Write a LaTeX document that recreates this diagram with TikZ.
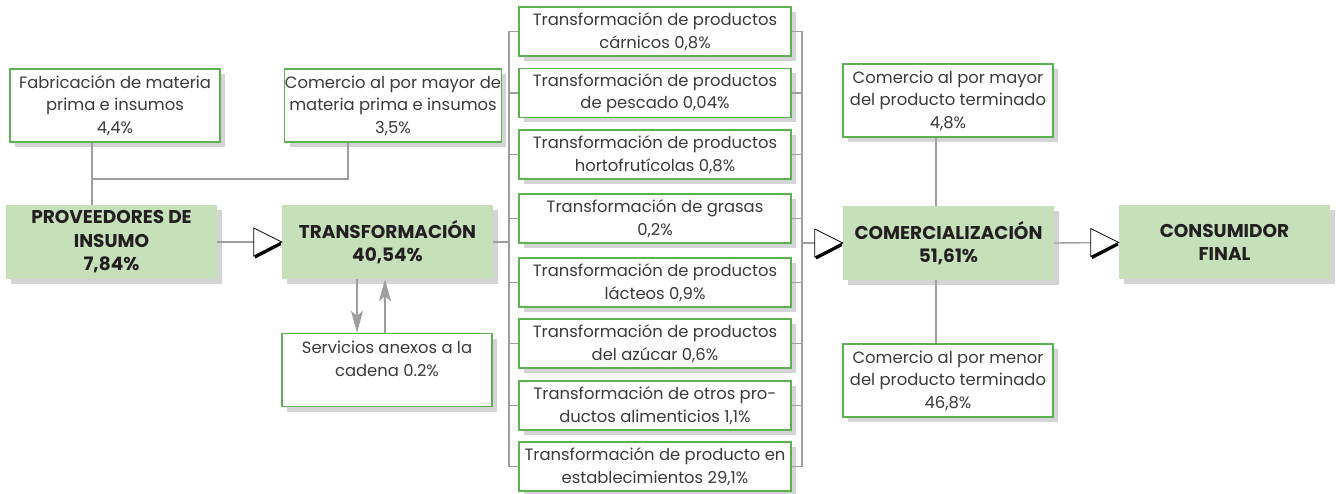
\documentclass[tikz,border=0pt]{standalone}
\usepackage{fontspec}
\setmainfont{Poppins}
\usetikzlibrary{shadows,arrows.meta,calc}
\definecolor{gfill}{RGB}{198,224,186}
\definecolor{gline}{RGB}{92,178,80}
\definecolor{shad}{RGB}{212,212,214}
\definecolor{conncol}{RGB}{158,158,160}
\definecolor{txt}{RGB}{58,58,58}
\definecolor{btxt}{RGB}{35,31,32}
\newcommand\arrowtri[1]{%
  \draw[fill=white,draw=black,line width=0.8pt,line join=miter] (#1) -- ++(-28,-14) -- ++(0,28) -- cycle;
  \draw[black,line width=3.2pt] ($(#1)+(-27,15)$) -- ($(#1)+(-1,1.5)$);
}
\begin{document}
\begin{tikzpicture}[x=1pt,y=-1pt,
  sh/.style={drop shadow={shadow xshift=5pt,shadow yshift=-5pt,fill=shad,opacity=1}},
  mainbox/.style={sh,fill=gfill,minimum width=211pt,minimum height=74pt,inner sep=0pt,align=center,font=\bfseries\fontsize{18.5}{23.5}\selectfont,text=btxt},
  sidebox/.style={sh,fill=white,draw=gline,line width=1.2pt,minimum width=210pt,minimum height=73pt,inner sep=0pt,align=center,font=\fontsize{16.4}{22.5}\selectfont,text=txt},
  midbox/.style={sidebox,minimum width=272pt,minimum height=49pt},
  link/.style={draw=conncol,line width=1.4pt},
  linkarrow/.style={link,-{Stealth[length=22pt,width=12pt,inset=5pt]},color=conncol}
]
\useasboundingbox (0,0) rectangle (1336,494);

% main chain
\node[mainbox] (prov) at (111.5,242) {PROVEEDORES DE\\INSUMO\\7,84\%};
\node[mainbox] (trans) at (387.5,242) {TRANSFORMACIÓN\\40,54\%};
\node[mainbox] (comerc) at (948.5,243) {COMERCIALIZACIÓN\\51,61\%};
\node[mainbox] (cons) at (1224.5,242.5) {CONSUMIDOR\\FINAL};

% side boxes
\node[sidebox] (fab) at (115,105.5) {Fabricación de materia\\prima e insumos\\4,4\%};
\node[sidebox] (cmp) at (393,105.5) {Comercio al por mayor de\\materia prima e insumos\\3,5\%};
\node[sidebox] (serv) at (387,370) {Servicios anexos a la\\cadena 0.2\%\\~};
\node[sidebox] (cmay) at (948,100.5) {Comercio al por mayor\\del producto terminado\\4,8\%};
\node[sidebox] (cmen) at (948,380.5) {Comercio al por menor\\del producto terminado\\46,8\%};

% middle column
\node[midbox] (m1) at (655,31.5) {Transformación de productos\\cárnicos 0,8\%};
\node[midbox] (m2) at (655,93) {Transformación de productos\\de pescado 0,04\%};
\node[midbox] (m3) at (655,154.5) {Transformación de productos\\hortofrutícolas 0,8\%};
\node[midbox] (m4) at (655,218.5) {Transformación de grasas\\0,2\%};
\node[midbox] (m5) at (655,282.5) {Transformación de productos\\lácteos 0,9\%};
\node[midbox] (m6) at (655,343.5) {Transformación de productos\\del azúcar 0,6\%};
\node[midbox] (m7) at (655,405.5) {Transformación de otros pro-\\ductos alimenticios 1,1\%};
\node[midbox] (m8) at (655,466.5) {Transformación de producto en\\establecimientos 29,1\%};

% coordinates for junctions
\coordinate (j1) at (92,179);
\coordinate (j2) at (348,179);
\coordinate (bl) at (509,242);
\coordinate (br) at (802,243);
\coordinate (vc) at (936,243);

% supplier connectors
\draw[link] (fab.south -| j1) -- (prov.north -| j1);
\draw[link] (cmp.south -| j2) -- (j2) -- (j1);

% brackets
\draw[link] (m1.west -| bl) -- (m8.west -| bl);
\draw[link] (m1.east -| br) -- (m8.east -| br);
\foreach \m in {m1,m2,m3,m4,m5,m6,m7,m8}{
  \draw[link] (\m.west) -- (\m.west -| bl);
  \draw[link] (\m.east) -- (\m.east -| br);
}
\draw[link] (trans.east) -- (bl);

% commercial connectors
\draw[link] (cmay.south -| vc) -- (comerc.north -| vc);
\draw[link] (comerc.south -| vc) -- (cmen.north -| vc);

% main arrows
\draw[link] (prov.east) -- (trans.west);
\arrowtri{trans.west}
\draw[link] (br) -- (comerc.west);
\arrowtri{comerc.west}
\draw[link] (comerc.east) -- (cons.west);
\arrowtri{cons.west}

% services arrows
\draw[linkarrow] (trans.south -| 357,0) -- (serv.north -| 357,0);
\draw[linkarrow] (serv.north -| 385,0) -- (trans.south -| 385,0);
\end{tikzpicture}
\end{document}
